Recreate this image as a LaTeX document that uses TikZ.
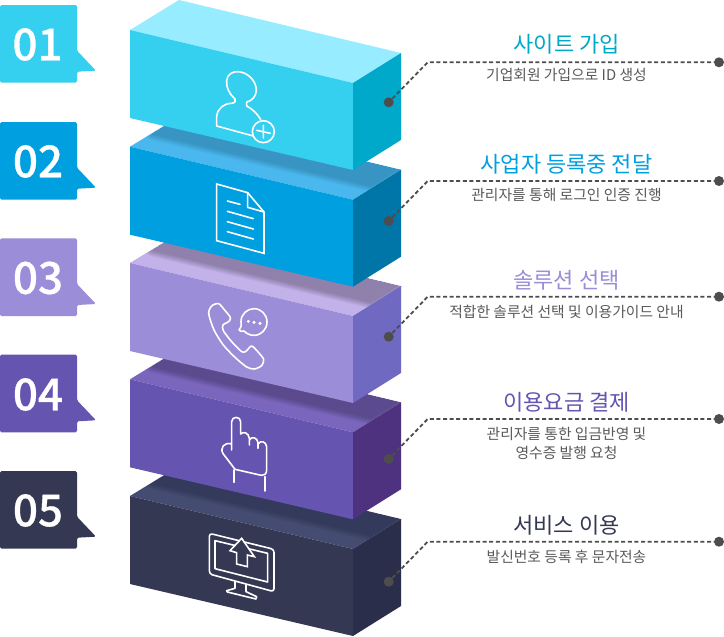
\documentclass[tikz,border=0pt]{standalone}
\usepackage{fontspec}
\setmainfont{Noto Sans CJK KR}
\newfontfamily\numfont[FakeBold=0.7]{Noto Sans CJK KR Medium}
\definecolor{fa}{HTML}{35CFEF}\definecolor{ta}{HTML}{97EDFF}\definecolor{sa}{HTML}{00A9C9}
\definecolor{fb}{HTML}{009FE0}\definecolor{tb}{HTML}{4AB8EE}\definecolor{sb}{HTML}{0075A8}
\definecolor{fc}{HTML}{9B8DD8}\definecolor{tc}{HTML}{C3B1EA}\definecolor{sc}{HTML}{6F69C2}
\definecolor{fd}{HTML}{6554B0}\definecolor{td}{HTML}{7A66BD}\definecolor{sd}{HTML}{4F327F}
\definecolor{fe}{HTML}{343853}\definecolor{te}{HTML}{454C72}\definecolor{se}{HTML}{2B2E4A}
\definecolor{dotc}{HTML}{4D4D4D}\definecolor{subc}{HTML}{5A5A5A}
\tikzset{
  titlet/.style={anchor=base,inner sep=0,font=\fontsize{22}{26}\selectfont},
  subt/.style={anchor=base,inner sep=0,text=subc,font=\fontsize{14.8}{19}\selectfont},
  dotn/.style={circle,fill=dotc,inner sep=0,minimum size=10pt},
  leader/.style={dotc,line width=1.8pt,dash pattern=on 4pt off 2.6pt},
  numt/.style={inner sep=0,text=white,font=\numfont\fontsize{44}{48}\selectfont},
  ico/.style={draw=white,line width=1.6pt,line join=round,line cap=round},
}
\newcommand{\blockshape}[6]{%
  \begin{scope}
    \clip (130,#1)--(179,#1-30)--(401,#1+23)--(353,#1+53)--cycle;
    \fill[#3] (130,#1)--(179,#1-30)--(401,#1+23)--(353,#1+53)--cycle;
    \ifnum#5=1
    \foreach \w in {13,11.5,10,8.5,7,5.5,4,2.5,1}{
      \begin{scope}[transparency group,opacity=#6]
      \path[fill=black,draw=black,line width=\w pt,line join=round]
        (150,#1-40)--(152,#1-13)--(371,#1+39)--(400,#1+21)--(420,#1)--(420,#1-40)--cycle;
      \end{scope}
    }
    \fi
  \end{scope}
  \fill[#2] (130,#1)--(353,#1+53)--(353,#1+140)--(130,#1+88)--cycle;
  \fill[#4] (353,#1+53)--(401,#1+23)--(401,#1+110)--(353,#1+140)--cycle;
}
\newcommand{\badge}[2]{%
  \fill[#2,rounded corners=1.5pt] (0,#1)--(77,#1)--(77,#1+45.7)--(96,#1+65.7)--(77,#1+66.7)--(77,#1+77.7)--(0,#1+77.7)--cycle;
}
\begin{document}
\begin{tikzpicture}[x=1pt,y=-1pt]
\useasboundingbox (0,0) rectangle (724,637);
\fill[white] (0,0) rectangle (724,637);
\blockshape{496}{fe}{te}{se}{1}{.018}
\blockshape{379.3}{fd}{td}{sd}{1}{.026}
\blockshape{263}{fc}{tc}{sc}{1}{.032}
\blockshape{146.7}{fb}{tb}{sb}{1}{.02}
\blockshape{30}{fa}{ta}{sa}{0}{0}
\badge{5}{fa}\badge{122}{fb}\badge{238.3}{fc}\badge{354.6}{fd}\badge{471}{fe}
\node[numt] (n1) at (37.5,44.5) {01};
\node[numt] (n2) at (38,161.5) {02};
\node[numt] (n3) at (38,278) {03};
\node[numt] (n4) at (38,394.5) {04};
\node[numt] (n5) at (38,510.5) {05};
\foreach \i/\yy in {1/62.3,2/181,3/296.7,4/419,5/541.7}{
  \node[dotn] (d\i) at (388.7,\yy+40) {};
  \coordinate (e\i) at (427.7,\yy);
  \node[dotn] (r\i) at (719,\yy) {};
  \draw[leader] (d\i) -- (e\i) -- (r\i);
}
\node[titlet,text=sa] (t1) at (566.7,52.8) {사이트 가입};
\node[subt] (s1) at (566.5,80) {기업회원 가입으로 ID 생성};
\node[titlet,text=fb] (t2) at (566.5,172.8) {사업자 등록중 전달};
\node[subt] (s2) at (566.5,200) {관리자를 통해 로그인 인증 진행};
\node[titlet,text=fc] (t3) at (566.5,288.8) {솔루션 선택};
\node[subt] (s3) at (566.5,317) {적합한 솔루션 선택 및 이용가이드 안내};
\node[titlet,text=fd] (t4) at (566.5,410.8) {이용요금 결제};
\node[subt,anchor=center,align=center] (s4) at (566.5,443.5) {관리자를 통한 입금반영 및\\영수증 발행 요청};
\node[titlet,text=fe] (t5) at (566.5,533.8) {서비스 이용};
\node[subt] (s5) at (566.5,562) {발신번호 등록 후 문자전송};
\begin{scope}[shift={(120,0)},scale=0.33333]
  \draw[ico] (290,378)--(290,350) .. controls (292,325) and (312,310) .. (335,310)
     .. controls (345,309) and (348,303) .. (345,297)
     .. controls (328,282) and (318,262) .. (320,242)
     .. controls (322,222) and (338,214) .. (355,215)
     .. controls (385,217) and (410,245) .. (409,272)
     .. controls (408,290) and (395,303) .. (380,306)
     --(380,318) .. controls (398,327) and (412,342) .. (422,358);
  \draw[ico] (290,378)--(400,408);
  \draw[ico] (430,395) circle [radius=33];
  \draw[ico] (410,391)--(451,400) (430,376)--(430,414);
  \draw[ico,line cap=butt,line join=miter] (290,552)--(383,578)--(432,636)--(432,760)--(290,722)--cycle;
  \draw[ico] (383,578)--(383,622)--(432,636);
  \draw[ico] (322,603)--(360,613) (322,634)--(400,656) (322,665)--(400,687) (322,695)--(400,717);
\end{scope}
\begin{scope}[shift={(120,280)},scale=0.33333]
  \draw[ico] plot[smooth cycle,tension=.45] coordinates {(266,100) (276,77) (296,71) (312,88) (331,112) (327,124) (309,135) (310,152) (335,185) (365,215) (378,214) (395,198) (415,217) (431,238) (425,257) (403,267) (380,261) (345,232) (310,195) (282,150)};
  \draw[ico] (372,153) .. controls (365,156) and (360,153) .. (357,150)
     .. controls (362,146) and (365,138) .. (363,125)
     .. controls (363,102) and (382,86) .. (402,86)
     .. controls (424,86) and (441,104) .. (441,126)
     .. controls (441,148) and (424,166) .. (402,166)
     .. controls (390,166) and (380,161) .. (372,153) -- cycle;
  \fill[white] (385,124) circle [radius=5] (402,127) circle [radius=5] (420,130) circle [radius=5];
  \draw[ico] (335,492)--(335,425) .. controls (335,408) and (362,408) .. (362,425)
     --(362,462) .. controls (370,453) and (386,458) .. (388,475) -- (388,495)
     (388,480) .. controls (395,468) and (412,472) .. (414,488) -- (414,505)
     (414,492) .. controls (422,480) and (438,484) .. (440,500)
     --(440,570) .. controls (440,582) and (432,588) .. (424,586)
     --(345,568)--(310,522) .. controls (298,505) and (312,485) .. (335,492) -- (335,510);
  \draw[ico] (342,570)--(342,607) (435,590)--(435,633);
  \draw[ico,rounded corners=3pt] (268,760)--(462,808)--(462,935)--(268,882)--cycle;
  \draw[ico] (285,782)--(443,820)--(443,906)--(285,866)--cycle;
  \filldraw[ico,fill=fe,line join=miter] (365,775)--(403,830)--(382,825)--(382,860)--(350,852)--(350,818)--(330,812)--cycle;
  \draw[ico] (345,905)--(345,925)--(320,932)--(322,936)--(408,957)--(410,950)--(378,935)--(378,915);
\end{scope}
\end{tikzpicture}
\end{document}
